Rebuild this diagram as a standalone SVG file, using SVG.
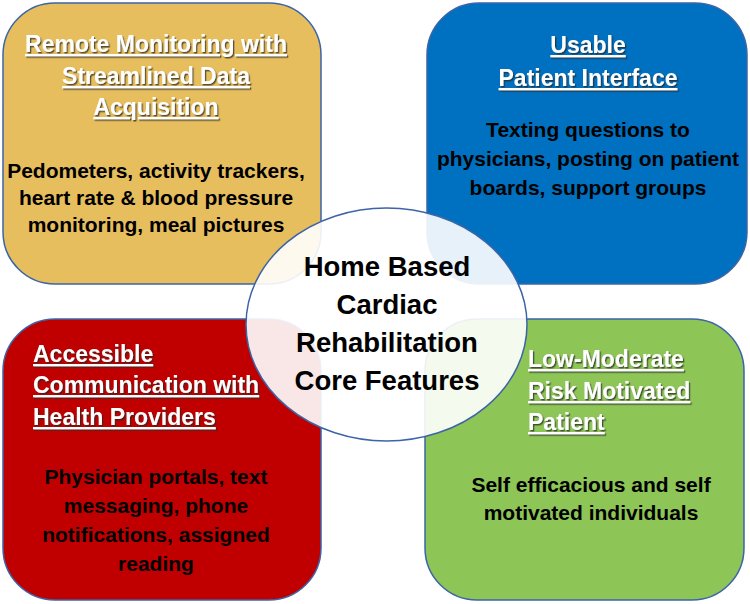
<svg xmlns="http://www.w3.org/2000/svg" width="750" height="604" viewBox="0 0 750 604">
<defs>
<filter id="sh" x="-5%" y="-20%" width="110%" height="150%">
<feDropShadow dx="1.3" dy="1.5" stdDeviation="0.7" flood-color="#2a2a2a" flood-opacity="0.75"/>
</filter>
<style>
.box{stroke:#3c64a6;stroke-width:1.5}
.t{font-family:"Liberation Sans",Arial,sans-serif;font-weight:bold}
.title{font-size:23px;fill:#ffffff;text-decoration:underline;filter:url(#sh)}
.body{font-size:21px;fill:#000000}
.center{font-size:27.5px;fill:#000000;text-anchor:middle}
.mid{text-anchor:middle}
</style>
</defs>
<rect width="750" height="604" fill="#ffffff"/>
<g id="remote-monitoring">
<rect class="box" x="3" y="3" width="318" height="281" rx="52" fill="#E6BE5E"/>
<text class="t title mid" x="156" y="52">Remote Monitoring with</text>
<text class="t title mid" x="156" y="84">Streamlined Data</text>
<text class="t title mid" x="156" y="115">Acquisition</text>
<text class="t body mid" x="156" y="178">Pedometers, activity trackers,</text>
<text class="t body mid" x="156" y="205">heart rate &amp; blood pressure</text>
<text class="t body mid" x="156" y="232">monitoring, meal pictures</text>
</g>
<g id="usable-interface">
<rect class="box" x="427" y="3" width="320" height="281" rx="52" fill="#0070C0"/>
<text class="t title mid" x="588" y="53">Usable</text>
<text class="t title mid" x="588" y="86">Patient Interface</text>
<text class="t body mid" x="588" y="137">Texting questions to</text>
<text class="t body mid" x="588" y="166">physicians, posting on patient</text>
<text class="t body mid" x="588" y="195">boards, support groups</text>
</g>
<g id="accessible-communication">
<rect class="box" x="3" y="319" width="318" height="281" rx="52" fill="#C00000"/>
<text class="t title" x="33" y="362">Accessible</text>
<text class="t title" x="33" y="393">Communication with</text>
<text class="t title" x="33" y="425">Health Providers</text>
<text class="t body mid" x="156" y="484">Physician portals, text</text>
<text class="t body mid" x="156" y="513">messaging, phone</text>
<text class="t body mid" x="156" y="542">notifications, assigned</text>
<text class="t body mid" x="156" y="571">reading</text>
</g>
<g id="low-moderate-risk">
<rect class="box" x="425" y="319" width="319" height="281" rx="52" fill="#8DC556"/>
<text class="t title" x="528" y="367">Low-Moderate</text>
<text class="t title" x="528" y="399">Risk Motivated</text>
<text class="t title" x="528" y="430">Patient</text>
<text class="t body mid" x="591" y="492">Self efficacious and self</text>
<text class="t body mid" x="591" y="520">motivated individuals</text>
</g>
<g id="connectors"></g>
<g id="core-features">
<ellipse cx="386.5" cy="324.5" rx="140.5" ry="116.5" fill="#ffffff" fill-opacity="0.9" stroke="#3c64a6" stroke-width="1.5"/>
<text class="t center" x="387" y="276">Home Based</text>
<text class="t center" x="387" y="314">Cardiac</text>
<text class="t center" x="387" y="352">Rehabilitation</text>
<text class="t center" x="387" y="390">Core Features</text>
</g>
</svg>
